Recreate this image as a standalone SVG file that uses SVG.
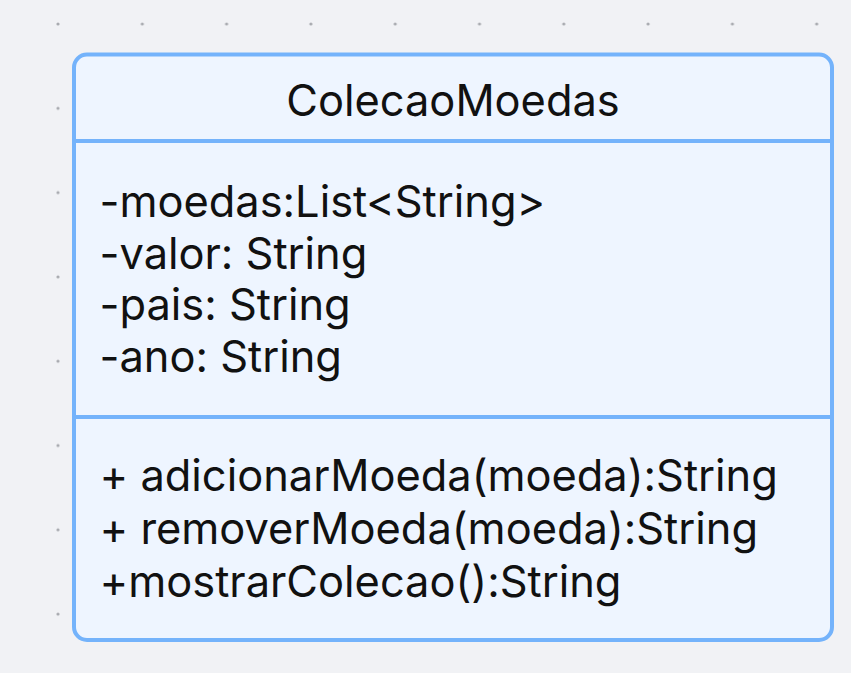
<svg xmlns="http://www.w3.org/2000/svg" width="851" height="673" viewBox="0 0 851 673">
  <style>
    .txt { font-family: Inter, "Noto Sans", "Liberation Sans", sans-serif; font-size: 43.4px; fill: #111111; }
    .box { fill: #eef5ff; stroke: #74b3fb; stroke-width: 4; }
    .sep { stroke: #74b3fb; stroke-width: 4; }
    .dot { fill: #a9abb0; }
  </style>
  <defs>
    <pattern id="grid" x="0" y="0" width="84.3" height="84.3" patternUnits="userSpaceOnUse" patternTransform="translate(58 24)">
      <circle class="dot" cx="0" cy="0" r="1.6"/>
      <circle class="dot" cx="84.3" cy="0" r="1.6"/>
      <circle class="dot" cx="0" cy="84.3" r="1.6"/>
      <circle class="dot" cx="84.3" cy="84.3" r="1.6"/>
    </pattern>
  </defs>
  <rect x="0" y="0" width="851" height="673" fill="#f1f2f5"/>
  <rect x="0" y="0" width="851" height="673" fill="url(#grid)"/>
  <g id="connectors"></g>
  <g id="ColecaoMoedas">
    <rect class="box" x="74" y="54.5" width="758" height="585.5" rx="13" ry="13"/>
    <line class="sep" x1="74" y1="141" x2="832" y2="141"/>
    <line class="sep" x1="74" y1="417" x2="832" y2="417"/>
    <text class="txt" x="453" y="115.5" text-anchor="middle">ColecaoMoedas</text>
    <text class="txt" x="99.5" y="217">-moedas:List&lt;String&gt;</text>
    <text class="txt" x="99.5" y="268.7">-valor: String</text>
    <text class="txt" x="99.5" y="320.4">-pais: String</text>
    <text class="txt" x="99.5" y="372.1">-ano: String</text>
    <text class="txt" x="99.5" y="491">+ adicionarMoeda(moeda):String</text>
    <text class="txt" x="99.5" y="544">+ removerMoeda(moeda):String</text>
    <text class="txt" x="99.5" y="597">+mostrarColecao():String</text>
  </g>
</svg>
